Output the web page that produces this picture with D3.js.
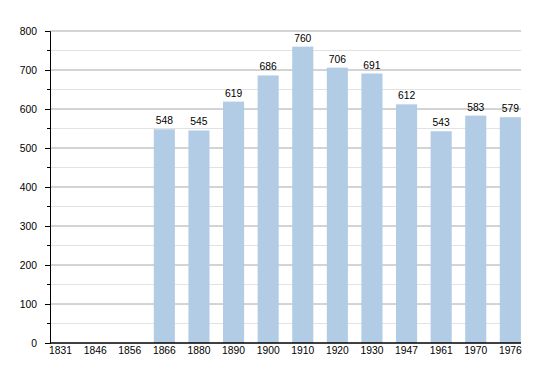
<!DOCTYPE html>
<html><head><meta charset="utf-8">
<script src="https://cdn.jsdelivr.net/npm/d3@7"></script>
<style>body{margin:0;background:#fff}</style>
</head><body>
<svg id="c" width="550" height="373"></svg>
<script>
const years = ["1831","1846","1856","1866","1880","1890","1900","1910","1920","1930","1947","1961","1970","1976"];
const population = [null,null,null,548,545,619,686,760,706,691,612,543,583,579];
const yTicks = [0,100,200,300,400,500,600,700,800];
const yMinor = [50,150,250,350,450,550,650,750];

const svg = d3.select("#c");
const font = "Liberation Sans, Arial, sans-serif";
const fs = 10.3;
const x = d3.scaleBand().domain(years).range([50, 534.4]).padding(0);
const y = d3.scaleLinear().domain([0, 800]).range([343, 31]);
const gridRight = 521;
const barW = x.bandwidth() * 0.61;

svg.append("g").selectAll("line").data(yMinor).join("line")
  .attr("x1", 50).attr("x2", gridRight).attr("y1", d => y(d)).attr("y2", d => y(d))
  .attr("stroke", "#e2e2e2").attr("stroke-width", 1);
svg.append("g").selectAll("line").data(yTicks.filter(d => d > 0)).join("line")
  .attr("x1", 50).attr("x2", gridRight).attr("y1", d => y(d)).attr("y2", d => y(d))
  .attr("stroke", "#a8a8a8").attr("stroke-width", 1);

const data = years.map((yr, i) => ({yr, v: population[i]})).filter(d => d.v != null);
svg.append("g").selectAll("rect").data(data).join("rect")
  .attr("x", d => x(d.yr)).attr("width", barW)
  .attr("y", d => y(d.v)).attr("height", d => y(0) - y(d.v))
  .attr("fill", "#b2cce5");
svg.append("g").selectAll("text").data(data).join("text")
  .attr("x", d => x(d.yr) + barW / 2).attr("y", d => y(d.v) - 5)
  .attr("text-anchor", "middle").attr("font-family", font).attr("font-size", fs)
  .attr("fill", "#000").text(d => d.v);

// y axis
const yAxis = d3.axisLeft(y).tickValues(yTicks).tickSize(5).tickPadding(8);
const gy = svg.append("g").attr("transform", "translate(50,0)").call(yAxis);
gy.select(".domain").attr("stroke", "#000");
gy.selectAll(".tick line").attr("stroke", "#000");
gy.selectAll(".tick text").attr("font-family", font).attr("font-size", fs).attr("fill", "#000");
svg.append("g").selectAll("line").data(yMinor).join("line")
  .attr("x1", 47).attr("x2", 50).attr("y1", d => y(d)).attr("y2", d => y(d)).attr("stroke", "#000");

// x axis
const xAxis = d3.axisBottom(x).tickSize(0).tickPadding(4);
const gx = svg.append("g").attr("transform", "translate(0,343)").call(xAxis);
gx.select(".domain").remove();
gx.selectAll(".tick").attr("transform", d => `translate(${x(d) + barW / 2},0)`);
gx.selectAll(".tick text").attr("font-family", font).attr("font-size", fs).attr("fill", "#000");
svg.append("line").attr("x1", 50).attr("x2", gridRight).attr("y1", 343).attr("y2", 343)
  .attr("stroke", "#000").attr("stroke-width", 1.5);
</script>
</body></html>
